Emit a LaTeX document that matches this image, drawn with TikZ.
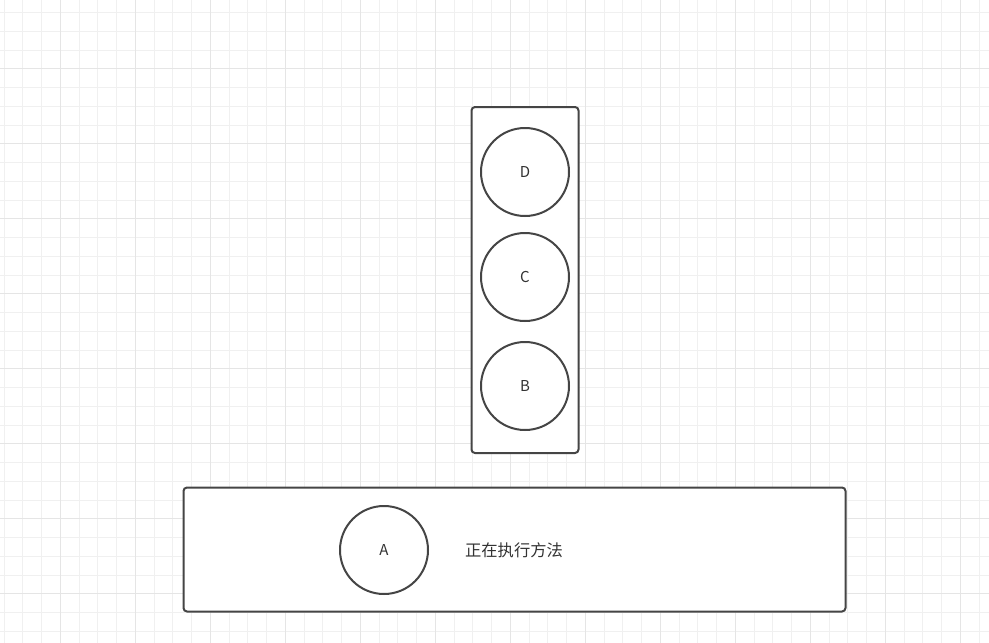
\documentclass[tikz,border=0pt]{standalone}
\usepackage{fontspec}
\setmainfont{Noto Sans CJK SC}
\newfontfamily\cjk{Noto Sans CJK SC}
\begin{document}
\begin{tikzpicture}[x=1pt,y=-1pt,
  minorgrid/.style={draw=black!6,line width=0.8pt},
  majorgrid/.style={draw=black!10,line width=0.8pt},
  box/.style={draw=black!73,line width=2pt,rounded corners=3.5pt},
  ball/.style={draw=black!73,line width=2pt,circle,minimum size=88pt,inner sep=0pt,text=black!80,font=\fontsize{15}{15}\selectfont}]
\useasboundingbox[fill=white] (0,0) rectangle (989,643);
\foreach \i in {0,...,52} {
  \draw[minorgrid] (4.05+\i*18.75,0) -- (4.05+\i*18.75,643);
}
\foreach \i in {0,...,34} {
  \draw[minorgrid] (0,12.45+\i*18.75) -- (989,12.45+\i*18.75);
}
\foreach \i in {0,...,12} {
  \draw[majorgrid] (60.3+\i*75,0) -- (60.3+\i*75,643);
}
\foreach \i in {0,...,8} {
  \draw[majorgrid] (0,-6.3+\i*75) -- (989,-6.3+\i*75);
}
\path[box,fill=white] (471.5,107) rectangle (578.5,453);
\path[box,fill=white] (183.5,487.5) rectangle (845.5,611.5);
\node[ball] (D) at (525,172) {D};
\node[ball] (C) at (525,277) {C};
\node[ball] (B) at (525,386) {B};
\node[ball] (A) at (384,550) {A};
\node[text=black!80,font=\cjk\fontsize{16.3}{16}\selectfont,inner sep=0pt] (T) at (514,550) {正在执行方法};
\end{tikzpicture}
\end{document}
